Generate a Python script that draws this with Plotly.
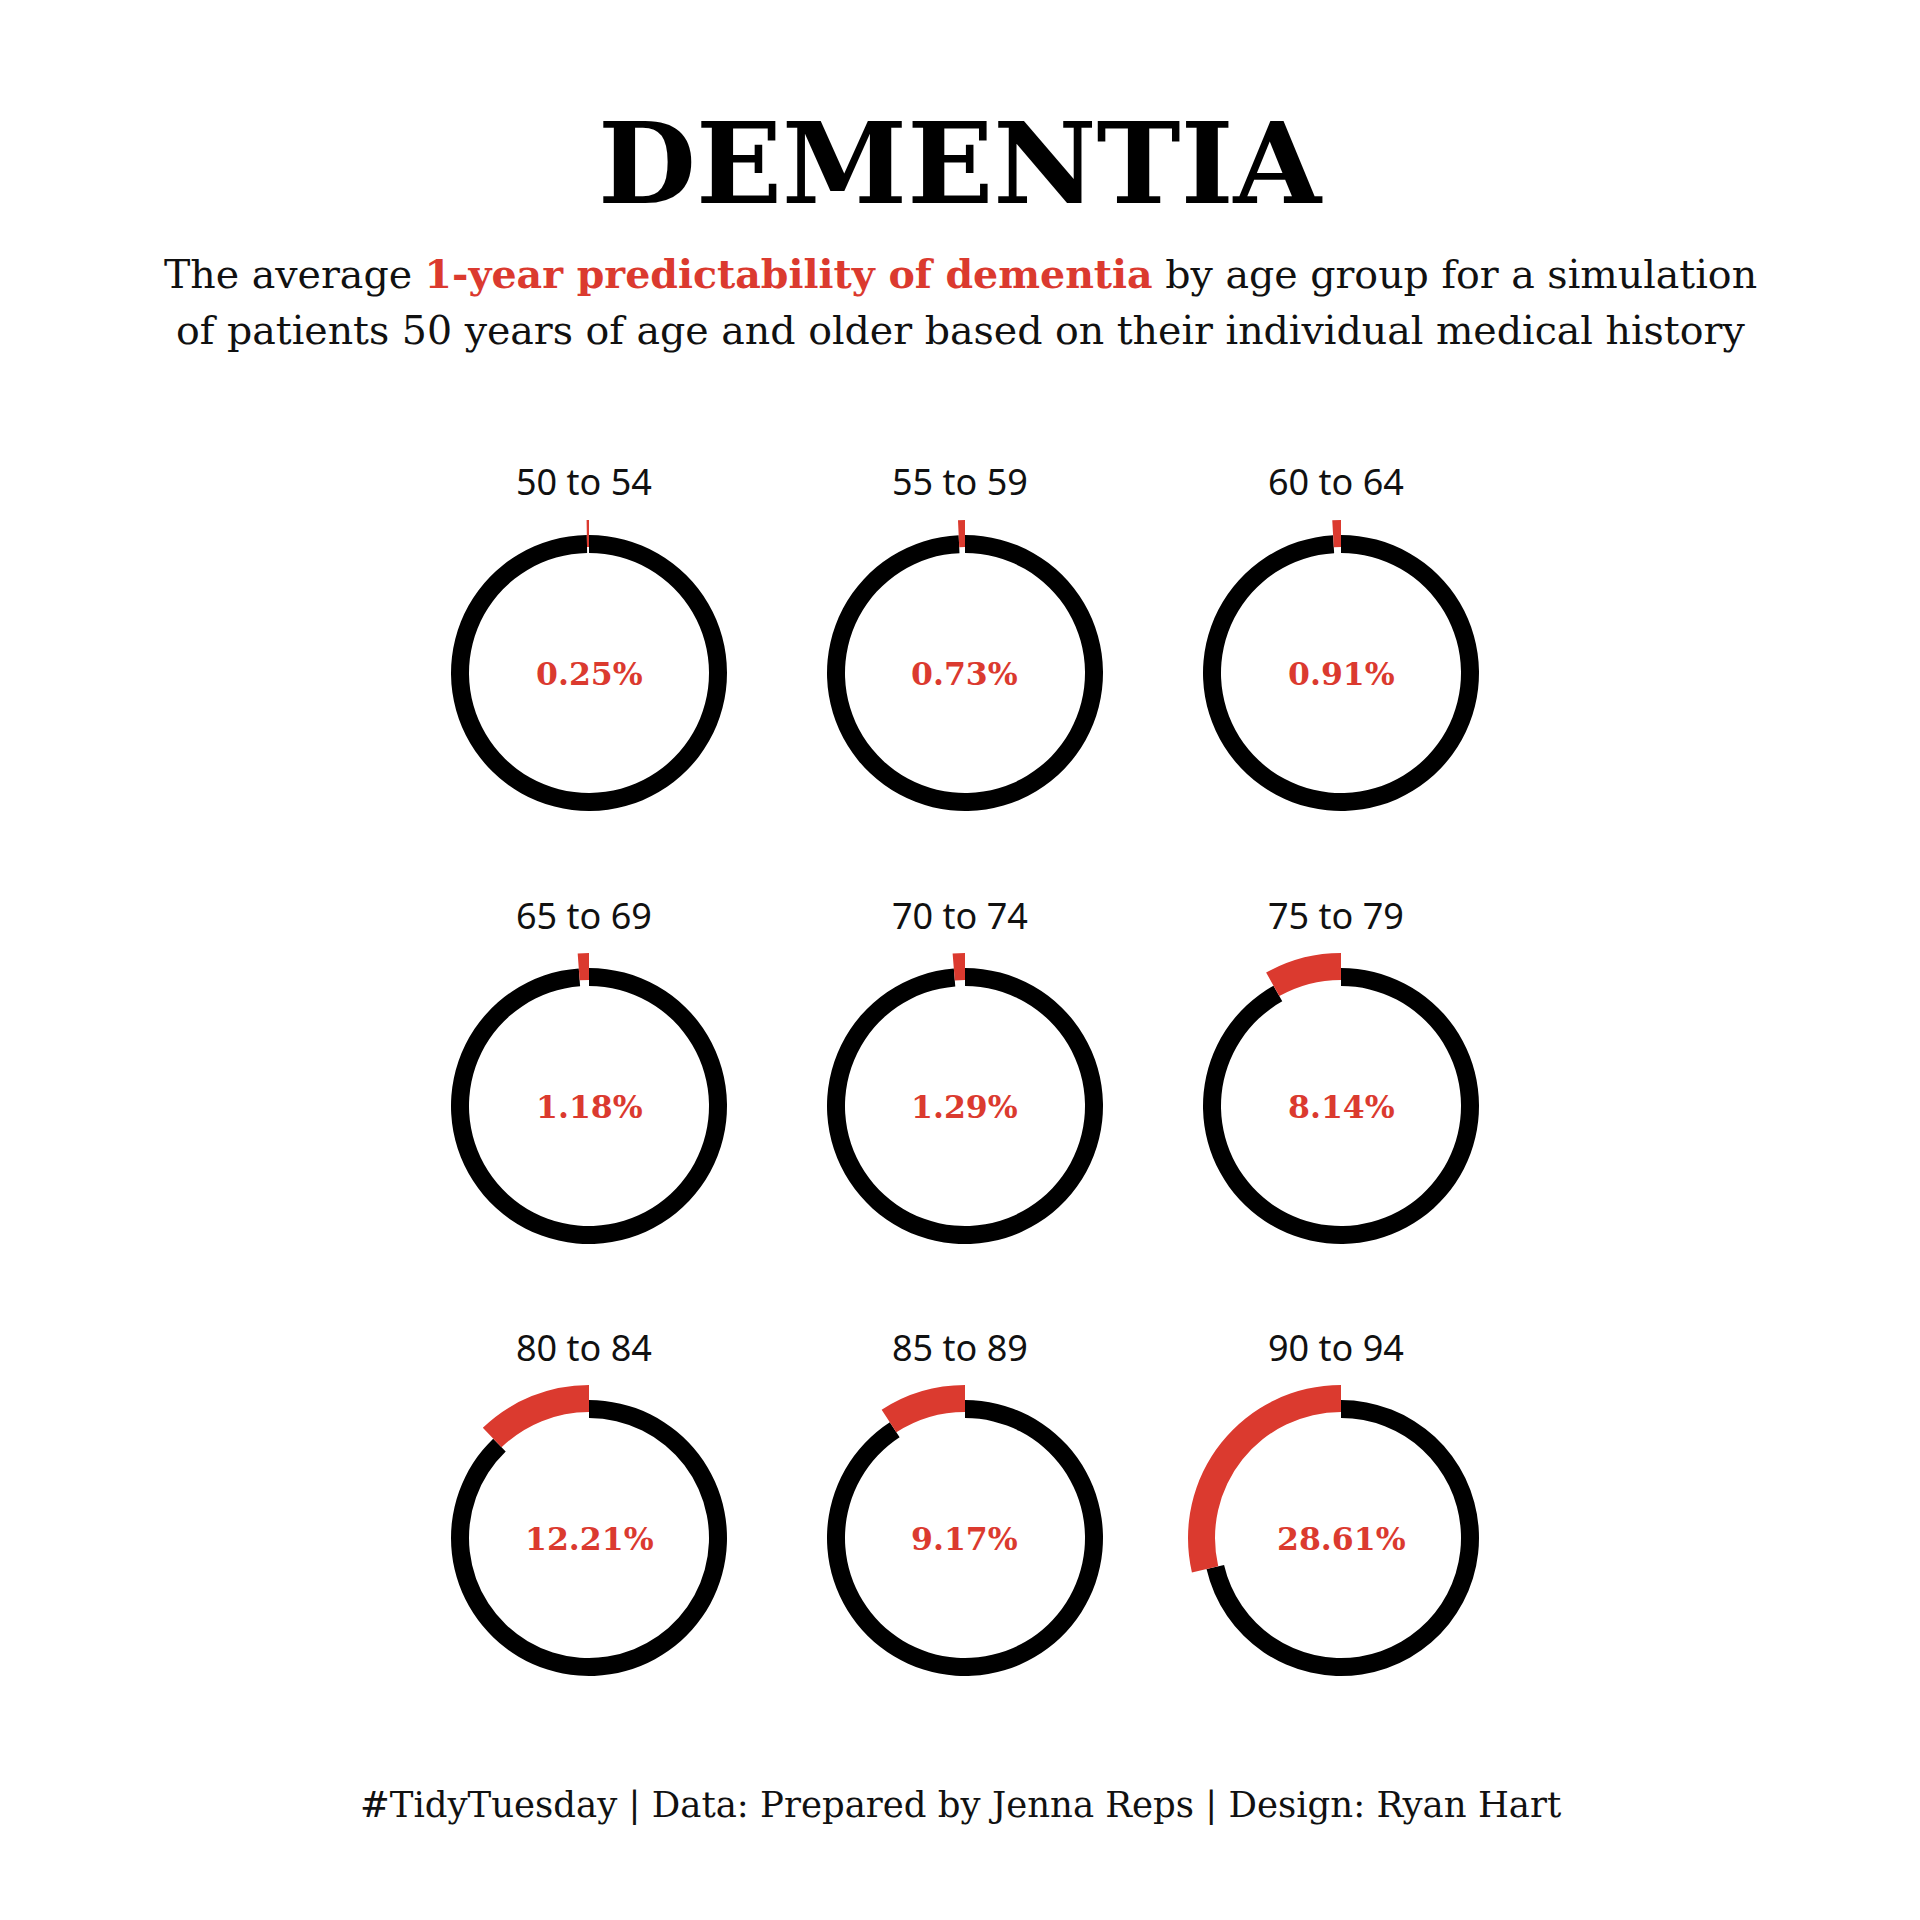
import plotly.graph_objects as go

age_groups = ["50 to 54", "55 to 59", "60 to 64",
              "65 to 69", "70 to 74", "75 to 79",
              "80 to 84", "85 to 89", "90 to 94"]
pct_values = [0.25, 0.73, 0.91, 1.18, 1.29, 8.14, 12.21, 9.17, 28.61]

RED = "#DB3A2F"
W = H = 1920
col_x = [589, 965, 1341]
row_y = [673, 1106, 1538]
R_BLACK_OUT, R_BLACK_IN = 138, 120
R_RED_OUT, R_RED_IN = 153, 126

fig = go.Figure()
ann = []
for i, (grp, p) in enumerate(zip(age_groups, pct_values)):
    cx = col_x[i % 3]
    cy = row_y[i // 3]

    def dom(r):
        return dict(x=[(cx - r) / W, (cx + r) / W],
                    y=[1 - (cy + r) / H, 1 - (cy - r) / H])

    # clockwise from 12 o'clock: remainder first, then the percentage slice
    # ends back at 12 o'clock, i.e. sits just counter-clockwise of the top.
    fig.add_trace(go.Pie(
        values=[100 - p, p], sort=False, direction="clockwise", rotation=0,
        hole=R_BLACK_IN / R_BLACK_OUT, domain=dom(R_BLACK_OUT),
        marker=dict(colors=["#000000", "rgba(0,0,0,0)"], line=dict(width=0)),
        textinfo="none", hoverinfo="skip", showlegend=False))
    fig.add_trace(go.Pie(
        values=[100 - p, p], sort=False, direction="clockwise", rotation=0,
        hole=R_RED_IN / R_RED_OUT, domain=dom(R_RED_OUT),
        marker=dict(colors=["rgba(0,0,0,0)", RED], line=dict(width=0)),
        textinfo="none", hoverinfo="skip", showlegend=False))

    ann.append(dict(x=cx / W, y=1 - cy / H, xref="paper", yref="paper",
                    text=f"<b>{p:.2f}%</b>", showarrow=False,
                    font=dict(family="DejaVu Serif", size=31.5, color=RED),
                    xanchor="center", yanchor="middle"))
    ann.append(dict(x=(cx - 5) / W, y=1 - (cy - 191) / H, xref="paper", yref="paper",
                    text=grp, showarrow=False,
                    font=dict(family="Noto Sans", size=36, color="#111111"),
                    xanchor="center", yanchor="middle"))

ann.append(dict(x=0.5, y=1 - 163 / H, xref="paper", yref="paper",
                text="<b>DEMENTIA</b>", showarrow=False,
                font=dict(family="DejaVu Serif", size=113, color="#000000"),
                xanchor="center", yanchor="middle"))
ann.append(dict(x=0.5, y=1 - 274 / H, xref="paper", yref="paper",
                text=f"The average <b><span style='color:{RED}'>1-year predictability of dementia</span></b> by age group for a simulation",
                showarrow=False,
                font=dict(family="DejaVu Serif", size=39.5, color="#111111"),
                xanchor="center", yanchor="middle"))
ann.append(dict(x=0.5, y=1 - 330 / H, xref="paper", yref="paper",
                text="of patients 50 years of age and older based on their individual medical history",
                showarrow=False,
                font=dict(family="DejaVu Serif", size=39.5, color="#111111"),
                xanchor="center", yanchor="middle"))
ann.append(dict(x=0.5, y=1 - 1804 / H, xref="paper", yref="paper",
                text="#TidyTuesday | Data: Prepared by Jenna Reps | Design: Ryan Hart",
                showarrow=False,
                font=dict(family="DejaVu Serif", size=35.5, color="#111111"),
                xanchor="center", yanchor="middle"))

fig.update_layout(width=W, height=H, margin=dict(l=0, r=0, t=0, b=0),
                  paper_bgcolor="white", plot_bgcolor="white",
                  annotations=ann)
fig.write_html("out.html")
